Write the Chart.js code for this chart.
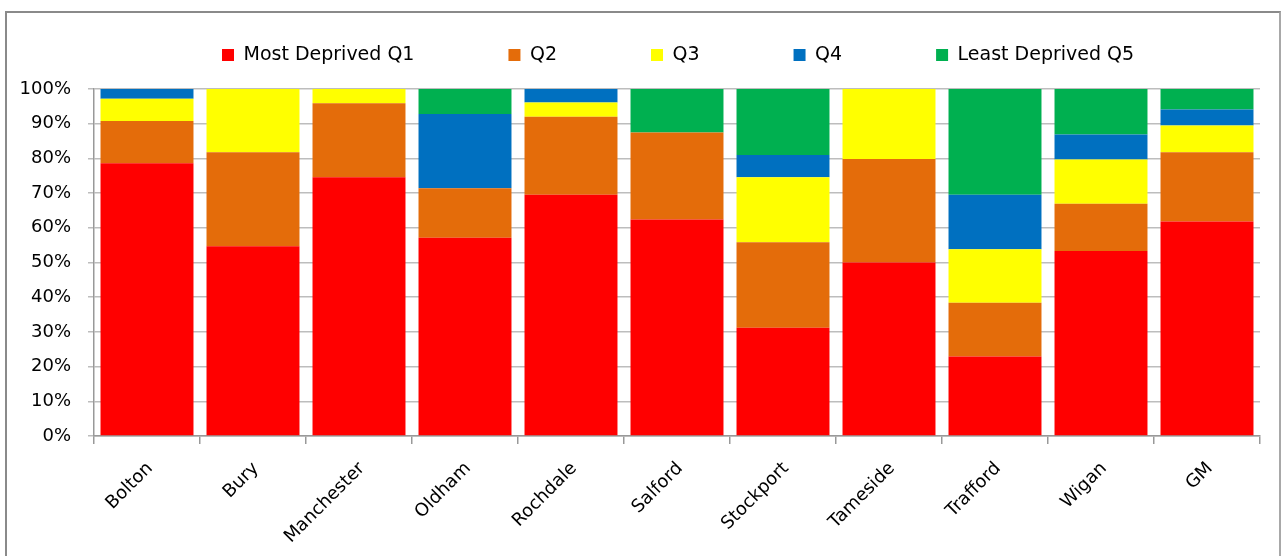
<!DOCTYPE html>
<html>
<head>
<meta charset="utf-8">
<script src="https://cdn.jsdelivr.net/npm/chart.js@4.4.1/dist/chart.umd.min.js"></script>
<style>
  html, body { margin: 0; padding: 0; background: #fff; overflow: hidden; }
  #wrap { position: relative; width: 1286px; height: 556px; }
  #frame { position: absolute; left: 5px; top: 11px; width: 1276px; height: 600px;
           border: 2px solid #8a8a8a; border-right-color: #a8a8a8; box-sizing: border-box; pointer-events: none; }
  canvas { position: absolute; left: 0; top: 0; }
</style>
</head>
<body>
<div id="wrap">
  <canvas id="c" width="1286" height="556"></canvas>
  <div id="frame"></div>
</div>
<script>
const categories = ['Bolton', 'Bury', 'Manchester', 'Oldham', 'Rochdale', 'Salford', 'Stockport', 'Tameside', 'Trafford', 'Wigan', 'GM'];
const seriesNames = ['Most Deprived Q1', 'Q2', 'Q3', 'Q4', 'Least Deprived Q5'];
const q1 = [78.6, 54.7, 74.6, 57.1, 69.5, 62.4, 31.2, 50.0, 22.9, 53.3, 61.8];
const q2 = [12.2, 27.1, 21.3, 14.3, 22.5, 25.1, 24.6, 29.8, 15.5, 13.6, 20.0];
const q3 = [6.4, 18.2, 4.1, 0, 4.1, 0, 18.8, 20.2, 15.4, 12.8, 7.7];
const q4 = [2.8, 0, 0, 21.4, 3.9, 0, 6.4, 0, 15.7, 7.2, 4.6];
const q5 = [0, 0, 0, 7.2, 0, 12.5, 19.0, 0, 30.5, 13.1, 5.9];
const yTicks = [0, 10, 20, 30, 40, 50, 60, 70, 80, 90, 100];
const colors = ['#FF0000', '#E46C0A', '#FFFF00', '#0070C0', '#00B050'];

const seriesValues = [q1, q2, q3, q4, q5];
const FONT = 'DejaVu Sans';

const legendTweak = {
  id: 'legendTweak',
  beforeInit(chart) {
    const orig = chart.legend.fit;
    chart.legend.fit = function () {
      orig.call(this);
      this.height = 0;
    };
  },
  afterLayout(chart) {
    const lg = chart.legend;
    const pad = lg.options.labels.padding;
    const fs = lg.options.labels.font.size;
    lg.top = 55 - pad - fs / 2;
    lg.left = 222 - pad;
  }
};

new Chart(document.getElementById('c'), {
  type: 'bar',
  data: {
    labels: categories,
    datasets: seriesNames.map((name, i) => ({
      label: name,
      data: seriesValues[i],
      backgroundColor: colors[i],
      borderWidth: 0,
      categoryPercentage: 1.0,
      barPercentage: 0.877
    }))
  },
  options: {
    responsive: false,
    animation: false,
    layout: { padding: { top: 89, left: 0, right: 26, bottom: 0 } },
    plugins: {
      legend: {
        position: 'top',
        align: 'start',
        labels: {
          boxWidth: 12,
          boxHeight: 12,
          padding: 94,
          color: '#000',
          font: { family: FONT, size: 19 }
        }
      },
      tooltip: { enabled: false }
    },
    scales: {
      x: {
        stacked: true,
        afterFit(s) { s.height = 120; },
        grid: { offset: true, drawOnChartArea: false, drawTicks: true, tickLength: 8, color: '#999', lineWidth: 1.5 },
        border: { display: true, color: '#999', width: 1.5 },
        ticks: {
          autoSkip: false, minRotation: 45, maxRotation: 45,
          padding: 14, labelOffset: 3,
          color: '#000', font: { family: FONT, size: 18 }
        }
      },
      y: {
        stacked: true,
        min: 0, max: 100,
        afterFit(s) { s.width = 94; },
        afterBuildTicks(s) { s.ticks = yTicks.map(v => ({ value: v })); },
        grid: { color: '#bdbdbd', lineWidth: 1.5, drawTicks: true, tickLength: 6 },
        border: { display: true, color: '#999', width: 1.5 },
        ticks: {
          padding: 17,
          color: '#000', font: { family: FONT, size: 18 },
          callback: v => v + '%'
        }
      }
    }
  },
  plugins: [legendTweak]
});
</script>
</body>
</html>
